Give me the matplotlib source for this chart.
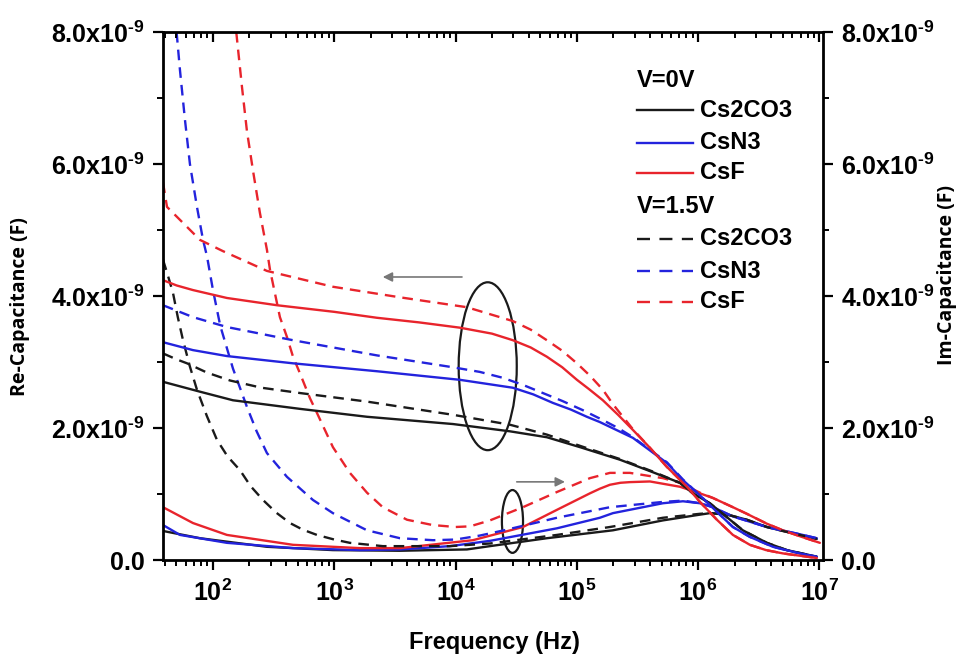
import numpy as np
import matplotlib
matplotlib.use("Agg")
import matplotlib.pyplot as plt
from matplotlib.patches import Ellipse
from matplotlib.ticker import FixedLocator, NullFormatter

plt.rcParams['font.family'] = ['Liberation Sans', 'DejaVu Sans']
plt.rcParams['font.weight'] = 'bold'
plt.rcParams['mathtext.fontset'] = 'custom'
plt.rcParams['mathtext.rm'] = 'Liberation Sans:bold'
plt.rcParams['mathtext.it'] = 'Liberation Sans:bold'
plt.rcParams['mathtext.bf'] = 'Liberation Sans:bold'

# ---------------- data (x: log10 of frequency in Hz, y: capacitance in nF) ----------
# Real part, V = 0 V (solid)
re_cs2co3_0_lf = [1.588, 1.893, 2.165, 2.717, 3.270, 3.979, 4.448, 4.753, 5.026, 5.355, 5.627, 5.850, 5.957, 6.097, 6.237, 6.369, 6.567, 6.732, 6.979]
re_cs2co3_0_v = [2.70, 2.55, 2.42, 2.29, 2.17, 2.06, 1.95, 1.86, 1.71, 1.52, 1.33, 1.17, 1.01, 0.86, 0.65, 0.45, 0.26, 0.15, 0.05]
re_csn3_0_lf = [1.588, 1.835, 2.115, 2.660, 3.352, 4.036, 4.473, 4.640, 4.803, 4.950, 5.083, 5.190, 5.463, 5.743, 5.875, 6.015, 6.155, 6.287, 6.427, 6.617, 6.839, 6.979]
re_csn3_0_v = [3.30, 3.18, 3.09, 2.98, 2.86, 2.73, 2.61, 2.51, 2.38, 2.28, 2.17, 2.09, 1.85, 1.47, 1.21, 0.98, 0.73, 0.50, 0.35, 0.20, 0.10, 0.05]
re_csf_0_lf = [1.588, 1.700, 1.835, 2.115, 2.528, 3.000, 3.352, 3.700, 4.036, 4.300, 4.473, 4.620, 4.753, 4.880, 5.001, 5.100, 5.215, 5.340, 5.463, 5.603, 5.743, 5.908, 6.015, 6.155, 6.287, 6.427, 6.560, 6.699, 6.979]
re_csf_0_v = [4.24, 4.16, 4.09, 3.97, 3.86, 3.76, 3.67, 3.60, 3.52, 3.43, 3.33, 3.22, 3.08, 2.92, 2.73, 2.59, 2.42, 2.20, 1.97, 1.70, 1.41, 1.11, 0.88, 0.61, 0.38, 0.23, 0.15, 0.10, 0.03]

# Real part, V = 1.5 V (dashed)
re_cs2co3_15_lf = [1.588, 1.700, 1.786, 1.950, 2.140, 2.400, 2.717, 3.270, 3.979, 4.448, 4.753, 5.026, 5.355, 5.627, 5.850, 5.957, 6.097, 6.237, 6.369, 6.567, 6.732, 6.979]
re_cs2co3_15_v = [3.13, 3.04, 2.98, 2.84, 2.72, 2.61, 2.53, 2.40, 2.20, 2.05, 1.90, 1.73, 1.53, 1.34, 1.17, 1.01, 0.86, 0.65, 0.45, 0.26, 0.15, 0.05]
re_csn3_15_lf = [1.588, 1.835, 2.115, 2.660, 3.352, 3.979, 4.200, 4.391, 4.560, 4.720, 4.880, 5.050, 5.215, 5.340, 5.463, 5.743, 5.875, 6.015, 6.155, 6.287, 6.427, 6.617, 6.839, 6.979]
re_csn3_15_v = [3.86, 3.68, 3.53, 3.33, 3.10, 2.92, 2.85, 2.76, 2.65, 2.53, 2.41, 2.27, 2.12, 2.00, 1.86, 1.48, 1.22, 0.98, 0.73, 0.50, 0.35, 0.20, 0.10, 0.05]
re_csf_15_lf = [1.588, 1.621, 1.893, 2.082, 2.445, 2.989, 3.542, 4.094, 4.473, 4.620, 4.753, 4.880, 5.001, 5.110, 5.215, 5.298, 5.463, 5.603, 5.743, 5.908, 6.015, 6.155, 6.287, 6.427, 6.560, 6.699, 6.979]
re_csf_15_v = [5.72, 5.35, 4.85, 4.68, 4.38, 4.14, 3.98, 3.83, 3.62, 3.49, 3.33, 3.17, 2.98, 2.79, 2.58, 2.36, 1.98, 1.70, 1.41, 1.11, 0.88, 0.61, 0.38, 0.23, 0.15, 0.10, 0.03]

# Imaginary part, V = 0 V (solid)
im_cs2co3_0_lf = [1.588, 1.893, 2.445, 2.989, 3.542, 4.094, 4.284, 4.753, 5.298, 5.710, 5.990, 6.097, 6.237, 6.402, 6.567, 6.699, 6.839, 6.979]
im_cs2co3_0_v = [0.44, 0.33, 0.20, 0.15, 0.14, 0.16, 0.21, 0.33, 0.45, 0.60, 0.68, 0.71, 0.69, 0.61, 0.50, 0.44, 0.38, 0.32]
im_csn3_0_lf = [1.588, 1.728, 2.115, 2.660, 3.212, 3.542, 3.954, 4.284, 4.836, 5.190, 5.298, 5.710, 5.875, 6.015, 6.122, 6.287, 6.567, 6.839, 6.979]
im_csn3_0_v = [0.53, 0.38, 0.26, 0.18, 0.15, 0.16, 0.21, 0.29, 0.48, 0.64, 0.71, 0.86, 0.89, 0.86, 0.80, 0.66, 0.50, 0.39, 0.33]
im_csf_0_lf = [1.588, 1.835, 2.115, 2.660, 3.212, 3.542, 4.143, 4.556, 4.836, 5.108, 5.190, 5.273, 5.360, 5.438, 5.603, 5.850, 6.015, 6.122, 6.287, 6.402, 6.567, 6.699, 6.839, 7.004]
im_csf_0_v = [0.80, 0.56, 0.38, 0.23, 0.18, 0.18, 0.30, 0.50, 0.76, 1.01, 1.08, 1.14, 1.17, 1.18, 1.19, 1.11, 1.01, 0.94, 0.80, 0.70, 0.55, 0.45, 0.36, 0.26]

# Imaginary part, V = 1.5 V (dashed)
im_cs2co3_15_lf = [1.588, 1.630, 1.670, 1.710, 1.753, 1.810, 1.868, 1.950, 2.033, 2.120, 2.223, 2.310, 2.412, 2.520, 2.635, 2.740, 2.857, 3.000, 3.129, 3.401, 3.954, 4.284, 4.836, 5.273, 5.710, 6.015, 6.097, 6.237, 6.402, 6.567, 6.699, 6.839, 6.979]
im_cs2co3_15_v = [4.55, 4.30, 4.05, 3.68, 3.33, 2.93, 2.58, 2.18, 1.82, 1.57, 1.36, 1.12, 0.91, 0.72, 0.56, 0.46, 0.38, 0.31, 0.26, 0.21, 0.21, 0.25, 0.38, 0.50, 0.64, 0.70, 0.71, 0.69, 0.61, 0.50, 0.44, 0.38, 0.32]
im_csn3_15_lf = [1.700, 1.728, 1.769, 1.810, 1.868, 1.918, 1.951, 2.000, 2.060, 2.165, 2.280, 2.360, 2.445, 2.610, 2.824, 2.989, 3.270, 3.542, 3.814, 4.000, 4.200, 4.400, 4.836, 5.273, 5.710, 5.875, 6.015, 6.122, 6.287, 6.567, 6.839, 6.979]
im_csn3_15_v = [8.00, 7.42, 6.67, 6.00, 5.35, 4.85, 4.60, 4.09, 3.55, 2.90, 2.32, 1.95, 1.62, 1.26, 0.91, 0.71, 0.45, 0.33, 0.30, 0.31, 0.37, 0.45, 0.64, 0.80, 0.88, 0.90, 0.86, 0.80, 0.66, 0.50, 0.39, 0.33]
im_csf_15_lf = [2.192, 2.239, 2.280, 2.330, 2.387, 2.445, 2.470, 2.552, 2.610, 2.660, 2.717, 2.800, 2.857, 2.989, 3.129, 3.270, 3.400, 3.600, 3.810, 4.000, 4.120, 4.284, 4.420, 4.556, 4.836, 5.108, 5.273, 5.438, 5.710, 5.850, 6.015, 6.122, 6.287, 6.402, 6.567, 6.699, 6.839, 7.004]
im_csf_15_v = [8.00, 7.17, 6.50, 5.90, 5.26, 4.70, 4.40, 3.68, 3.38, 3.08, 2.83, 2.45, 2.23, 1.71, 1.32, 1.02, 0.80, 0.61, 0.53, 0.50, 0.51, 0.60, 0.70, 0.80, 1.03, 1.24, 1.32, 1.32, 1.24, 1.17, 1.02, 0.94, 0.80, 0.70, 0.55, 0.45, 0.36, 0.26]

x_tick_exponents = [2, 3, 4, 5, 6, 7]
y_ticks_nf = [0, 2, 4, 6, 8]
y_tick_labels = ['0.0', r'2.0x10$^{\text{-9}}$', r'4.0x10$^{\text{-9}}$', r'6.0x10$^{\text{-9}}$', r'8.0x10$^{\text{-9}}$']
legend_groups = ['V=0V', 'V=1.5V']
legend_names = ['Cs2CO3', 'CsN3', 'CsF']

BLACK = '#1a1a1a'
BLUE = '#2323dd'
RED = '#e8242c'
colors = [BLACK, BLUE, RED]
DASH = (0, (4.5, 3.0))
LW = 1.7

fig = plt.figure(figsize=(9.59, 6.54), dpi=100)
ax = fig.add_axes([163/959, 94/654, 660/959, 528/654])
ax.set_xscale('log')

def plot_curve(lf, v, color, ls):
    ax.plot(10**np.asarray(lf), np.asarray(v) * 1e-9, color=color, lw=LW, ls=ls,
            solid_capstyle='round', solid_joinstyle='round', dash_capstyle='butt', clip_on=True)

im_sets = [
    (im_cs2co3_0_lf, im_cs2co3_0_v, BLACK, '-'),
    (im_csn3_0_lf, im_csn3_0_v, BLUE, '-'),
    (im_csf_0_lf, im_csf_0_v, RED, '-'),
    (im_cs2co3_15_lf, im_cs2co3_15_v, BLACK, DASH),
    (im_csn3_15_lf, im_csn3_15_v, BLUE, DASH),
    (im_csf_15_lf, im_csf_15_v, RED, DASH),
]
re_sets = [
    (re_cs2co3_15_lf, re_cs2co3_15_v, BLACK, DASH),
    (re_csn3_15_lf, re_csn3_15_v, BLUE, DASH),
    (re_csf_15_lf, re_csf_15_v, RED, DASH),
    (re_cs2co3_0_lf, re_cs2co3_0_v, BLACK, '-'),
    (re_csn3_0_lf, re_csn3_0_v, BLUE, '-'),
    (re_csf_0_lf, re_csf_0_v, RED, '-'),
]
for lf, v, c, ls in im_sets + re_sets:
    plot_curve(lf, v, c, ls)

xmin, xmax = 10**1.588, 10**7.03
ax.set_xlim(xmin, xmax)
ax.set_ylim(0, 8e-9)

# ticks
major_x = [10.0**e for e in x_tick_exponents]
minor_x = [m * 10.0**e for e in range(1, 7) for m in range(2, 10)]
minor_x = [m for m in minor_x if xmin <= m <= xmax]
ax.xaxis.set_major_locator(FixedLocator(major_x))
ax.xaxis.set_minor_locator(FixedLocator(minor_x))
ax.set_xticklabels(['10$^{%d}$' % e for e in x_tick_exponents])
ax.xaxis.set_minor_formatter(NullFormatter())
ax.set_yticks([t * 1e-9 for t in y_ticks_nf])
ax.set_yticklabels(y_tick_labels)
ax.yaxis.set_minor_locator(FixedLocator([t * 1e-9 for t in [1, 3, 5, 7]]))

ax.tick_params(axis='both', which='major', direction='out', length=7, width=1.6,
               labelsize=18, pad=6)
ax.tick_params(axis='both', which='minor', direction='out', length=4, width=1.4)
ax.tick_params(axis='x', which='major', pad=7)
for s in ax.spines.values():
    s.set_linewidth(2.0)

# top axis (inward ticks)
axt = ax.twiny()
axt.set_xscale('log')
axt.set_xlim(xmin, xmax)
axt.xaxis.set_major_locator(FixedLocator(major_x))
axt.xaxis.set_minor_locator(FixedLocator(minor_x))
axt.xaxis.set_major_formatter(NullFormatter())
axt.xaxis.set_minor_formatter(NullFormatter())
axt.tick_params(axis='x', which='major', direction='in', length=7, width=1.6)
axt.tick_params(axis='x', which='minor', direction='in', length=4, width=1.4)
for s in axt.spines.values():
    s.set_visible(False)

# right axis
axr = ax.twinx()
axr.set_ylim(0, 8e-9)
axr.set_yticks([t * 1e-9 for t in y_ticks_nf])
axr.set_yticklabels(y_tick_labels)
axr.yaxis.set_minor_locator(FixedLocator([t * 1e-9 for t in [1, 3, 5, 7]]))
axr.tick_params(axis='y', which='major', direction='out', length=7, width=1.6, labelsize=18, pad=6)
axr.tick_params(axis='y', which='minor', direction='out', length=4, width=1.4)
for s in axr.spines.values():
    s.set_visible(False)

# axis labels
fig.text(494/959, 1 - 642/654, 'Frequency (Hz)', ha='center', va='center', fontsize=17, fontweight='bold')
fig.text(20/959, 1 - 307/654, 'Re-Capacitance (F)', ha='center', va='center', rotation=90,
         fontsize=14, fontweight='bold', family=['Open Sans', 'DejaVu Sans'])
fig.text(947/959, 1 - 275/654, 'Im-Capacitance (F)', ha='center', va='center', rotation=90,
         fontsize=14, fontweight='bold', family=['Open Sans', 'DejaVu Sans'])

# legend (manual, axes coordinates)
lx0, lx1, tx = 0.718, 0.803, 0.813
rows_y = [0.909, 0.852, 0.790, 0.733, 0.669, 0.608, 0.547, 0.489]
r = 0
for gi, (grp, ls) in enumerate(zip(legend_groups, ['-', (0, (5.5, 4.0))])):
    ax.text(lx0, rows_y[r], grp, transform=ax.transAxes, ha='left', va='center', fontsize=17)
    r += 1
    for name, c in zip(legend_names, colors):
        ax.plot([lx0, lx1], [rows_y[r], rows_y[r]], transform=ax.transAxes, color=c, lw=LW,
                ls=ls, clip_on=False)
        ax.text(tx, rows_y[r], name, transform=ax.transAxes, ha='left', va='center', fontsize=17)
        r += 1

# annotations
ax.add_patch(Ellipse((0.492, 0.367), 0.088, 0.318, transform=ax.transAxes, fill=False,
                     ec=BLACK, lw=1.6))
ax.add_patch(Ellipse((0.5295, 0.073), 0.032, 0.119, transform=ax.transAxes, fill=False,
                     ec=BLACK, lw=1.6))
ax.annotate('', xy=(0.333, 0.536), xytext=(0.453, 0.536), xycoords='axes fraction',
            arrowprops=dict(arrowstyle='-|>', color='#777777', lw=1.2, mutation_scale=14,
                            shrinkA=0, shrinkB=0))
ax.annotate('', xy=(0.609, 0.148), xytext=(0.536, 0.148), xycoords='axes fraction',
            arrowprops=dict(arrowstyle='-|>', color='#777777', lw=1.2, mutation_scale=14,
                            shrinkA=0, shrinkB=0))

fig.savefig('out.png', dpi=100)
